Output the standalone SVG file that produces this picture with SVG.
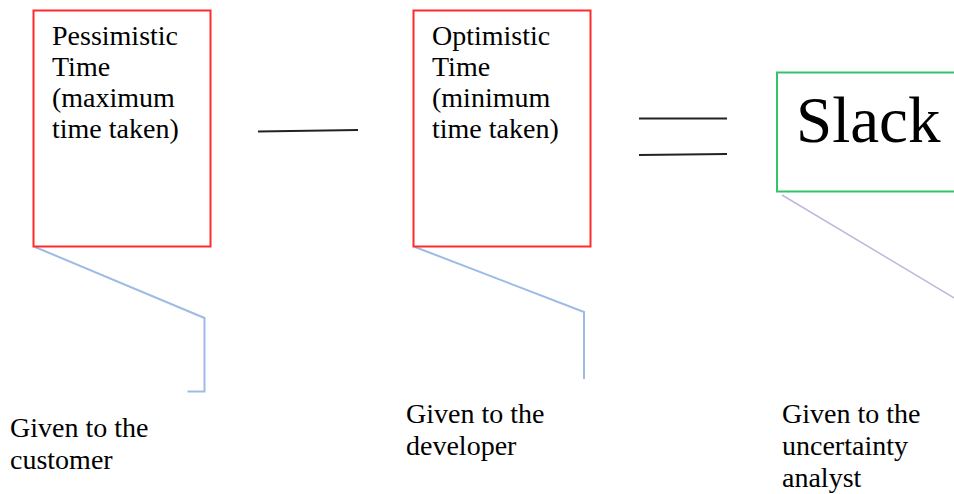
<svg xmlns="http://www.w3.org/2000/svg" width="954" height="494" viewBox="0 0 954 494">
<style>
.t{font-family:"Liberation Serif","Times New Roman",serif;font-size:28px;fill:#000}
.big{font-family:"Liberation Serif","Times New Roman",serif;font-size:65px;fill:#000}
.red{fill:#fff;stroke:#ff2a2a;stroke-width:2}
.grn{fill:#fff;stroke:#33c46a;stroke-width:2}
.blue{fill:none;stroke:#9dbbe6;stroke-width:2}
.lav{fill:none;stroke:#c2b6dd;stroke-width:1.5}
.blk{stroke:#222;stroke-width:2}
</style>
<rect width="954" height="494" fill="#fff"/>
<g id="connectors">
<line class="blk" x1="258" y1="131.5" x2="358" y2="130"/>
<line class="blk" x1="639" y1="118.5" x2="727" y2="118.5"/>
<line class="blk" x1="639" y1="155" x2="727" y2="154"/>
<polyline class="blue" points="35,247 204.5,318 204.5,391.5 187.5,391.5"/>
<polyline class="blue" points="415,247 584,312 584,379"/>
<polyline class="lav" points="782,195 956,299"/>
</g>
<g id="pessimistic">
<rect class="red" x="33.5" y="10.5" width="177" height="236"/>
<text class="t" x="52"><tspan x="52" y="45">Pessimistic</tspan><tspan x="52" y="76">Time</tspan><tspan x="52" y="107">(maximum</tspan><tspan x="52" y="138">time taken)</tspan></text>
</g>
<g id="optimistic">
<rect class="red" x="413.5" y="10.5" width="177" height="236"/>
<text class="t" x="432"><tspan x="432" y="45">Optimistic</tspan><tspan x="432" y="76">Time</tspan><tspan x="432" y="107">(minimum</tspan><tspan x="432" y="138">time taken)</tspan></text>
</g>
<g id="slack">
<rect class="grn" x="777" y="72.5" width="200" height="119"/>
<text class="big" x="796" y="142">Slack</text>
</g>
<g id="customer">
<text class="t"><tspan x="10" y="437">Given to the</tspan><tspan x="10" y="469">customer</tspan></text>
</g>
<g id="developer">
<text class="t"><tspan x="406" y="423">Given to the</tspan><tspan x="406" y="455">developer</tspan></text>
</g>
<g id="analyst">
<text class="t"><tspan x="782" y="423">Given to the</tspan><tspan x="782" y="455">uncertainty</tspan><tspan x="782" y="487">analyst</tspan></text>
</g>
</svg>
